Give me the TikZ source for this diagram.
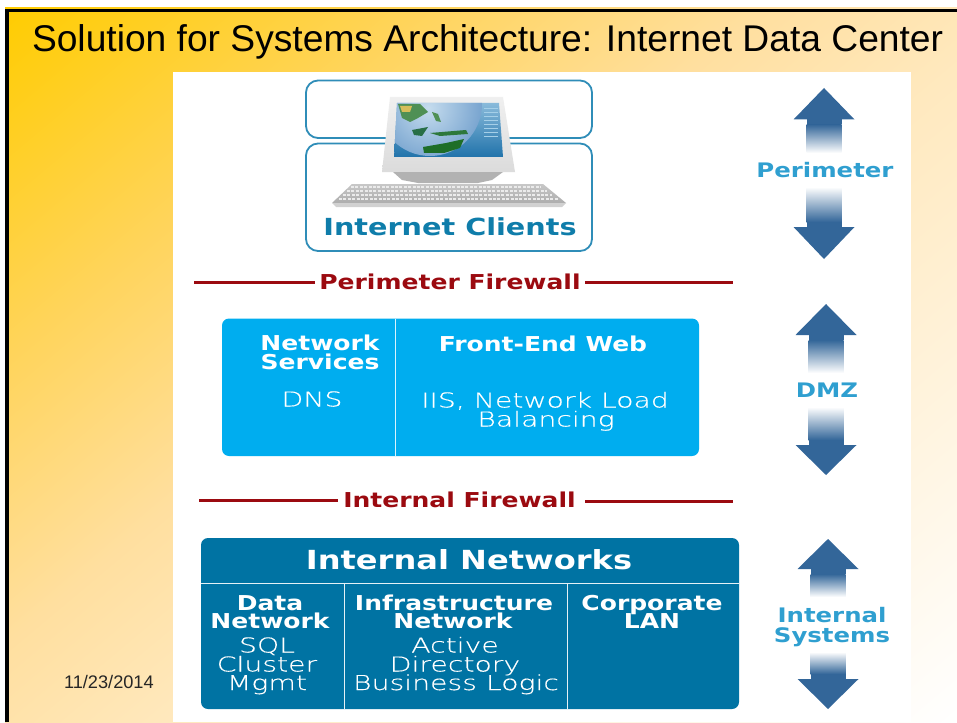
\documentclass[tikz,border=0pt]{standalone}
\usepackage{fontspec}
\setmainfont{Liberation Sans}
\newfontfamily\wide[FakeStretch=1.22]{DejaVu Sans}
\newfontfamily\widethin[FakeStretch=1.38,FakeBold=0.35]{DejaVu Sans ExtraLight}
\definecolor{cyanbox}{HTML}{00ADEF}
\definecolor{tealbox}{HTML}{0073A3}
\definecolor{firered}{HTML}{9B0A10}
\definecolor{arrowblue}{HTML}{336699}
\definecolor{sidetext}{HTML}{2F9FD0}
\definecolor{clienttext}{HTML}{0F7DAA}
\definecolor{clientline}{HTML}{2F8DB8}
\definecolor{slidea}{HTML}{FFCC00}
\definecolor{slideb}{HTML}{FFD45A}
\definecolor{slidec}{HTML}{FFDF9F}
\definecolor{slided}{HTML}{FFE9BF}
\definecolor{screentop}{HTML}{8FBEDD}
\definecolor{screenblue}{HTML}{1B6FA8}
\definecolor{scanline}{HTML}{A5CFE8}
\definecolor{globein}{HTML}{C5DCEE}
\definecolor{globeout}{HTML}{2F6FB2}
\definecolor{landa}{HTML}{4F9055}
\definecolor{landb}{HTML}{D7BE5A}
\definecolor{landc}{HTML}{286E46}
\definecolor{landd}{HTML}{2D783C}
\definecolor{lande}{HTML}{1E6E28}
\pgfdeclarehorizontalshading{slidegrad}{100bp}{color(0bp)=(slidea);color(25bp)=(slidea);color(36.5bp)=(slideb);color(46bp)=(slidec);color(53.5bp)=(slided);color(75bp)=(white);color(100bp)=(white)}
\tikzset{
  x=1pt,y=-1pt,
  inner sep=0pt,outer sep=0pt,
  boldwhite/.style={text=white,font=\wide\bfseries\fontsize{20.5}{20.5}\selectfont,anchor=base},
  thinwhite/.style={text=white,font=\widethin\fontsize{20.5}{20.5}\selectfont,anchor=base},
  firetext/.style={text=firered,font=\wide\bfseries\fontsize{20.5}{20.5}\selectfont,anchor=base},
  sidelabel/.style={text=sidetext,font=\wide\bfseries\fontsize{20}{20}\selectfont,anchor=base},
  fireline/.style={draw=firered,line width=2.6pt},
  clientbox/.style={draw=clientline,line width=1.8pt,rounded corners=12pt,fill=white},
  divider/.style={draw=white!85!cyanbox,line width=1.6pt},
  arrowhd/.style={fill=arrowblue},
}
\newcommand{\dblarrow}[9]{%
  \fill[arrowhd] (#1,#2) -- (#1+#9,#3) -- (#1-#9,#3) -- cycle;
  \fill[arrowblue] (#1-#8,#3-0.3) rectangle (#1+#8,#3+5);
  \shade[top color=arrowblue,bottom color=white] (#1-#8,#3+5) rectangle (#1+#8,#4);
  \shade[top color=white,bottom color=arrowblue] (#1-#8,#5) rectangle (#1+#8,#6-5);
  \fill[arrowblue] (#1-#8,#6-5) rectangle (#1+#8,#6+0.3);
  \fill[arrowhd] (#1,#7) -- (#1+#9,#6) -- (#1-#9,#6) -- cycle;
}
\begin{document}
\begin{tikzpicture}
\useasboundingbox (0,0) rectangle (957,722);
\fill[white] (0,0) rectangle (957,722);
\begin{scope}
  \clip (5,8) rectangle (957,722);
  \shade[shading=slidegrad,transform canvas={rotate around={-50:(481,365)}}] (-99,-800) rectangle (1061,1500);
\end{scope}
\fill[black] (5,9) rectangle (957,12.5);
\fill[black] (5,9) rectangle (8.5,722);
\fill[white] (173,72) rectangle (911,722);
\node[anchor=base west,font=\fontsize{37.2}{37.2}\selectfont] (title) at (32,51.3) {Solution for Systems Architecture: Internet Data Center};
\node[anchor=base west,font=\fontsize{18.2}{18.2}\selectfont,text=black!85] (date) at (64,688) {11/23/2014};
% client boxes
\draw[clientbox] (306,80.5) rectangle (592,138);
\draw[clientbox] (306,143.5) rectangle (592,251);
% monitor
\shade[top color=black!6,bottom color=black!14] (390,97) -- (503,97) -- (515,172) -- (382,172) -- cycle;
\fill[black!30] (393,172) -- (503,172) -- (492,180) -- (478,183) -- (418,183) -- (402,180) -- cycle;
\begin{scope}
  \clip (397,103) -- (499,103) -- (503,157) -- (394,157) -- cycle;
  \shade[top color=screentop,bottom color=screenblue] (390,100) rectangle (510,160);
  \foreach \yy in {108,112,...,136} \draw[scanline,line width=.5pt] (484,\yy) -- (498,\yy);
  \begin{scope}
    \clip (430,104) circle (52);
    \shade[inner color=globein,outer color=globeout] (428,108) circle (105);
  \end{scope}
  \fill[landa] (398,104) -- (420,104) -- (428,112) -- (418,118) -- (410,122) -- (402,118) -- cycle;
  \fill[landb] (400,106) -- (412,106) -- (410,112) -- (402,112) -- cycle;
  \fill[landa] (432,112) -- (438,114) -- (441,122) -- (436,121) -- cycle;
  \fill[landc] (412,130) -- (428,127) -- (422,136) -- (414,135) -- cycle;
  \fill[landd] (430,133) -- (466,130) -- (468,134) -- (440,136) -- cycle;
  \fill[lande] (423,147) -- (446,143) -- (464,139) -- (460,148) -- (444,153) -- (424,153) -- cycle;
\end{scope}
% keyboard
\shade[top color=black!22,bottom color=black!32] (352,184) -- (543,184) -- (566,203) -- (332,203) -- cycle;
\fill[black!18] (332,203) -- (566,203) -- (562,207) -- (336,207) -- cycle;
\foreach \yy/\xa/\xb in {187/351/541,191/347/547,195/343/552,199/339/558}
  \draw[black!8,line width=1.1pt,dash pattern=on 3pt off 1.4pt] (\xa,\yy) -- (\xb,\yy);
\node[anchor=base,font=\wide\bfseries\fontsize{23.5}{23.5}\selectfont,text=clienttext] (clients) at (450,235) {Internet Clients};
% firewalls
\node[firetext] (pfw) at (450,289) {Perimeter Firewall};
\coordinate (pl) at (194,282.5);\coordinate (pr) at (733,282.5);
\draw[fireline] (pl) -- (315,282.5);
\draw[fireline] (585,282.5) -- (pr);
\node[firetext] (ifw) at (459.5,507) {Internal Firewall};
\coordinate (il) at (199,500.7);\coordinate (ir) at (733,501.7);
\draw[fireline] (il) -- (338,500.7);
\draw[fireline] (585,501.7) -- (ir);
% DMZ box
\fill[cyanbox,rounded corners=7pt] (222,318.5) rectangle (699,456);
\draw[divider] (395.5,318.5) -- (395.5,456);
\node[boldwhite] (ns1) at (320,350) {Network};
\node[boldwhite] (ns2) at (320,369) {Services};
\node[thinwhite] (dns) at (312,406.5) {DNS};
\node[boldwhite] (few) at (543,351) {Front-End Web};
\node[thinwhite] (iis) at (545,407.5) {IIS, Network Load};
\node[thinwhite] (bal) at (546,426.5) {Balancing};
% Internal box
\fill[tealbox,rounded corners=7pt] (201,538) rectangle (739,709);
\draw[divider,draw=white!90!tealbox] (201,583.5) -- (739,583.5);
\draw[divider,draw=white!90!tealbox] (344.5,583.5) -- (344.5,709);
\draw[divider,draw=white!90!tealbox] (567.5,583.5) -- (567.5,709);
\node[boldwhite,font=\wide\bfseries\fontsize{26.3}{26.3}\selectfont] (in) at (469,569) {Internal Networks};
\node[boldwhite] (d1) at (270,610) {Data};
\node[boldwhite] (d2) at (270,628.5) {Network};
\node[thinwhite] (d3) at (267,652.5) {SQL};
\node[thinwhite] (d4) at (267,671.5) {Cluster};
\node[thinwhite] (d5) at (267,690) {Mgmt};
\node[boldwhite] (f1) at (454,610) {Infrastructure};
\node[boldwhite] (f2) at (453,628.5) {Network};
\node[thinwhite] (f3) at (455,652.5) {Active};
\node[thinwhite] (f4) at (455,671.5) {Directory};
\node[thinwhite] (f5) at (456,690) {Business Logic};
\node[boldwhite] (c1) at (652,610) {Corporate};
\node[boldwhite] (c2) at (652,628.5) {LAN};
% side arrows
\dblarrow{824}{88}{119.5}{153}{187}{227}{259}{17.5}{30.5}
\dblarrow{826}{304}{335}{373}{407}{445}{475}{17.5}{30.5}
\dblarrow{828}{539}{569}{597}{652}{679}{709}{17.5}{30.5}
\node[sidelabel] (s1) at (825,178) {Perimeter};
\node[sidelabel] (s2) at (827,397) {DMZ};
\node[sidelabel] (s3) at (832,622) {Internal};
\node[sidelabel] (s4) at (832,642) {Systems};
\end{tikzpicture}
\end{document}
